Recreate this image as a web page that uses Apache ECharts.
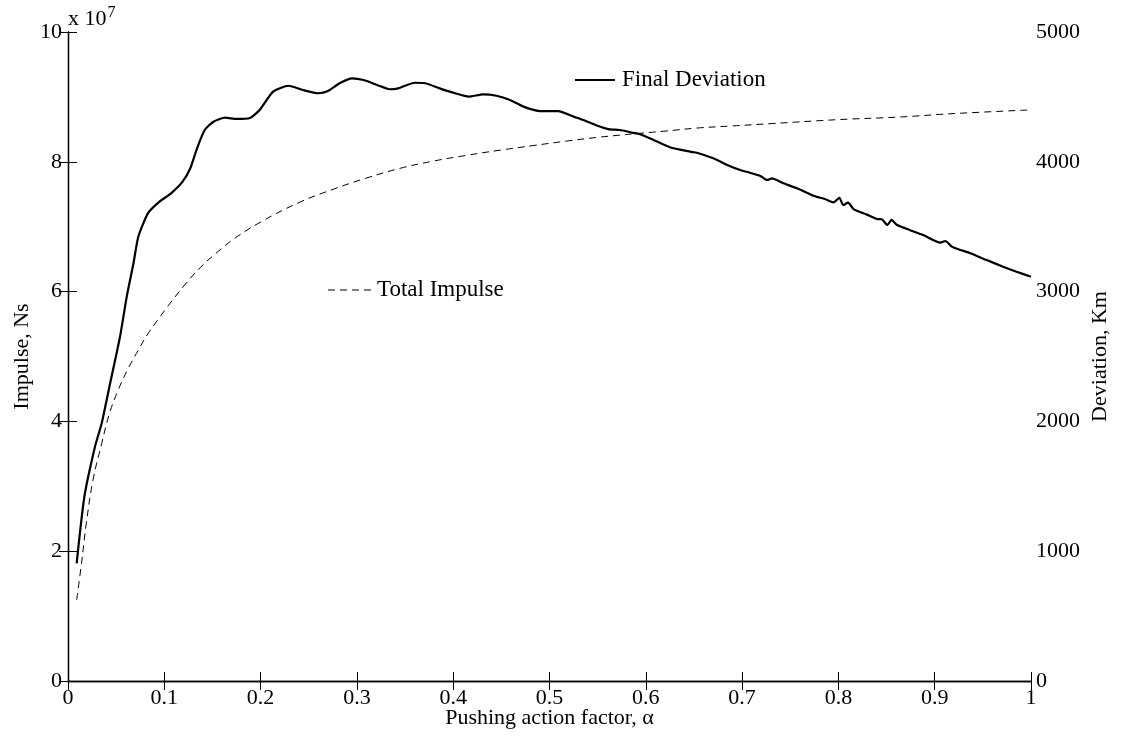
<!DOCTYPE html>
<html>
<head>
<meta charset="utf-8">
<script src="https://cdn.jsdelivr.net/npm/echarts@6/dist/echarts.min.js"></script>
<style>html,body{margin:0;padding:0;background:#fff}#c{width:1123px;height:743px}</style>
</head>
<body>
<div id="c"></div>
<script>
// Final Deviation (right axis, Km) vs pushing action factor alpha
var devAlpha = [0.009,0.017,0.028,0.035,0.043,0.054,0.061,0.068,0.073,0.083,0.095,0.107,0.119,0.127,0.134,0.142,0.151,0.163,0.175,0.189,0.199,0.213,0.229,0.244,0.26,0.27,0.282,0.295,0.307,0.321,0.334,0.343,0.352,0.36,0.371,0.386,0.402,0.416,0.431,0.445,0.459,0.473,0.49,0.509,0.525,0.535,0.549,0.561,0.573,0.585,0.594,0.608,0.625,0.646,0.653,0.67,0.687,0.698,0.708,0.719,0.726,0.731,0.743,0.757,0.774,0.786,0.795,0.801,0.805,0.81,0.816,0.829,0.84,0.845,0.851,0.855,0.861,0.874,0.888,0.906,0.911,0.918,0.937,0.954,0.971,0.985,1.0];
var devKm = [907,1420,1805,1985,2267,2652,2961,3218,3423,3603,3693,3757,3847,3950,4104,4245,4309,4340,4330,4338,4399,4540,4586,4553,4528,4545,4605,4643,4630,4592,4559,4566,4592,4609,4605,4566,4528,4502,4520,4509,4476,4425,4391,4391,4348,4322,4280,4252,4245,4226,4212,4168,4112,4078,4070,4027,3968,3937,3916,3891,3860,3873,3834,3796,3739,3713,3688,3723,3667,3685,3634,3595,3559,3557,3513,3552,3513,3475,3436,3377,3390,3346,3295,3243,3192,3153,3115];
// Total Impulse (left axis, units of 1e7 Ns)
var impAlpha = [0.009,0.014,0.019,0.026,0.035,0.043,0.052,0.062,0.073,0.083,0.094,0.104,0.121,0.138,0.156,0.173,0.201,0.241,0.276,0.31,0.345,0.379,0.414,0.449,0.483,0.518,0.552,0.587,0.618,0.653,0.687,0.732,0.8,0.864,0.916,1.0];
var impNs = [1.25,1.81,2.43,3.10,3.66,4.12,4.48,4.80,5.10,5.35,5.58,5.78,6.10,6.38,6.62,6.82,7.08,7.38,7.58,7.75,7.90,8.01,8.10,8.18,8.25,8.32,8.38,8.43,8.47,8.52,8.55,8.59,8.65,8.69,8.74,8.80];
var impScaleText = 'x 10';
var impScaleExp = '7';
var seriesNames = ['Final Deviation', 'Total Impulse'];

function pairs(xs, ys){ return xs.map(function(x,i){ return [x, ys[i]]; }); }

var FONT = '"Liberation Serif", "Times New Roman", serif';
var FS = 22;
var LFS = 23;
var ax = {lineStyle:{color:'#000', width:1.3}};
var tick = {inside:true, length:9, lineStyle:{color:'#000', width:1}};
var chart = echarts.init(document.getElementById('c'), null, {renderer:'canvas'});
chart.setOption({
  animation:false,
  backgroundColor:'#fff',
  textStyle:{fontFamily:FONT, color:'#000'},
  grid:{left:68, right:92, top:32, bottom:62, containLabel:false, outerBoundsMode:'none'},
  xAxis:[
    {type:'value', min:0, max:1, interval:0.1, position:'bottom',
     name:'Pushing action factor, \u03b1', nameLocation:'middle', nameGap:26, nameMoveOverlap:false,
     nameTextStyle:{fontFamily:FONT, fontSize:FS, color:'#000', verticalAlign:'top'},
     axisLine:ax, axisTick:tick,
     axisLabel:{fontFamily:FONT, fontSize:FS, color:'#000', margin:6,
       formatter:function(v){ return String(Math.round(v*10)/10); }},
     splitLine:{show:false}},
    {type:'value', min:0, max:1, interval:0.1, position:'top',
     axisLine:ax, axisTick:tick,
     axisLabel:{show:false}, splitLine:{show:false}}
  ],
  yAxis:[
    {type:'value', min:0, max:10, interval:2, position:'left',
     name:'Impulse, Ns', nameLocation:'middle', nameGap:35, nameRotate:90, nameMoveOverlap:false,
     nameTextStyle:{fontFamily:FONT, fontSize:FS, color:'#000'},
     axisLine:ax, axisTick:tick,
     axisLabel:{fontFamily:FONT, fontSize:FS, color:'#000', margin:6},
     splitLine:{show:false}},
    {type:'value', min:0, max:5000, interval:1000, position:'right',
     name:'Deviation, Km', nameLocation:'middle', nameGap:58, nameRotate:90, nameMoveOverlap:false,
     nameTextStyle:{fontFamily:FONT, fontSize:FS, color:'#000'},
     axisLine:ax, axisTick:tick,
     axisLabel:{fontFamily:FONT, fontSize:FS, color:'#000', margin:5,
       formatter:function(v){ return String(v); }},
     splitLine:{show:false}}
  ],
  graphic:[
    {type:'text', left:68, top:5, style:{
      text:impScaleText+'{s|'+impScaleExp+'}', fontFamily:FONT, fontSize:FS, fill:'#000',
      rich:{s:{fontFamily:FONT, fontSize:16, verticalAlign:'top', padding:[0,0,12,1]}}}},
    {type:'line', shape:{x1:575, y1:80, x2:615, y2:80}, style:{stroke:'#000', lineWidth:2.2}},
    {type:'text', x:622, y:80, style:{text:seriesNames[0], fontFamily:FONT, fontSize:LFS, fill:'#000', verticalAlign:'middle'}},
    {type:'line', shape:{x1:328, y1:290, x2:372, y2:290}, style:{stroke:'#000', lineWidth:1, lineDash:[7,5]}},
    {type:'text', x:377, y:290, style:{text:seriesNames[1], fontFamily:FONT, fontSize:LFS, fill:'#000', verticalAlign:'middle'}}
  ],
  series:[
    {name:seriesNames[0], type:'line', xAxisIndex:0, yAxisIndex:1, data:pairs(devAlpha, devKm),
     showSymbol:false, symbol:'none', smooth:0.2, lineStyle:{color:'#000', width:2.2}, itemStyle:{color:'#000'}},
    {name:seriesNames[1], type:'line', xAxisIndex:0, yAxisIndex:0, data:pairs(impAlpha, impNs),
     showSymbol:false, symbol:'none', smooth:0.4, lineStyle:{color:'#000', width:1, type:[7,5]}, itemStyle:{color:'#000'}}
  ]
});
</script>
</body>
</html>
